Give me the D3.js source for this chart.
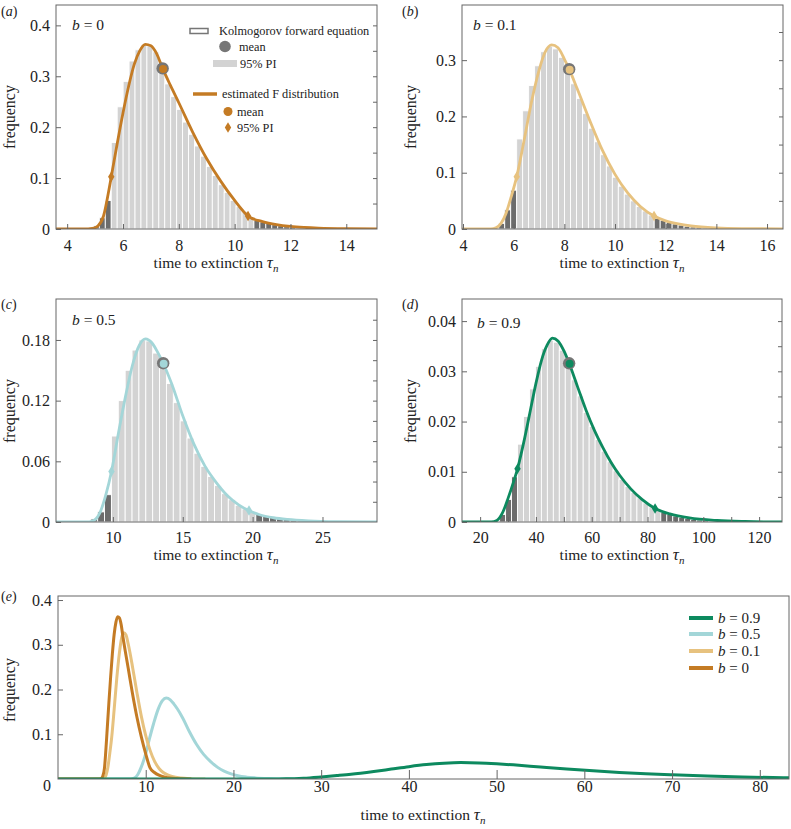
<!DOCTYPE html>
<html><head><meta charset="utf-8">
<script src="https://cdn.jsdelivr.net/npm/d3@7"></script>
<style>body{margin:0;background:#fff}svg{display:block}</style>
</head><body>
<script>
// ---------------- DATA ----------------
// estimated F distribution curves (time, density)
const tauA = [0, 4.6, 4.9, 5.1, 5.3, 5.5, 5.58, 5.8, 6.0, 6.2, 6.4, 6.6, 6.8, 7.0, 7.2, 7.42, 7.7, 8.0, 8.5, 9.0, 9.5, 10.0, 10.48, 11.0, 11.5, 12.0, 12.5, 13.0, 14.0, 15.2];
const fA   = [0, 0, 0.001, 0.006, 0.025, 0.078, 0.1027, 0.17, 0.228, 0.28, 0.323, 0.35, 0.3627, 0.36, 0.345, 0.3155, 0.282, 0.248, 0.19, 0.138, 0.094, 0.056, 0.0255, 0.0145, 0.0085, 0.005, 0.003, 0.0017, 0.0005, 0.0001];
const tauB = [0, 5.1, 5.3, 5.5, 5.7, 5.9, 6.12, 6.4, 6.7, 7.0, 7.25, 7.5, 7.75, 8.0, 8.19, 8.5, 9.0, 9.5, 10.0, 10.5, 11.0, 11.54, 12.0, 12.5, 13.0, 14.0, 15.0, 16.8];
const fB   = [0, 0, 0.002, 0.01, 0.028, 0.057, 0.093, 0.155, 0.225, 0.282, 0.315, 0.327, 0.322, 0.302, 0.284, 0.25, 0.193, 0.14, 0.097, 0.064, 0.04, 0.023, 0.0145, 0.009, 0.0055, 0.002, 0.0007, 0.0001];
const tauC = [0, 8.3, 8.7, 9.1, 9.5, 9.9, 10.4, 10.9, 11.4, 11.9, 12.33, 12.8, 13.2, 13.6, 14.2, 15.0, 15.8, 16.6, 17.4, 18.2, 19.0, 19.74, 20.5, 21.5, 22.5, 24, 26, 29];
const fC   = [0, 0, 0.002, 0.01, 0.027, 0.05, 0.088, 0.124, 0.155, 0.175, 0.181, 0.177, 0.168, 0.157, 0.137, 0.105, 0.077, 0.055, 0.039, 0.026, 0.017, 0.0113, 0.0072, 0.0042, 0.0025, 0.0011, 0.0003, 0];
const tauD = [0, 24, 26, 28, 30, 31.8, 33.4, 36, 38, 40, 42, 44, 45.9, 48, 50, 51.9, 55, 58, 61, 64, 67, 70, 74, 78, 82.7, 88, 95, 105, 115, 129];
const fD   = [0, 0, 0.0003, 0.0018, 0.0047, 0.0077, 0.0106, 0.0168, 0.0222, 0.0276, 0.0322, 0.0352, 0.0366, 0.036, 0.0341, 0.0316, 0.0268, 0.0222, 0.0182, 0.0148, 0.0118, 0.0093, 0.0066, 0.0045, 0.0027, 0.0016, 0.0008, 0.0003, 0.0001, 0];

// Kolmogorov forward equation histograms: first bin start, bin width, heights
const binStartA = 4.94, binWidthA = 0.213;
const barsA = [0.006, 0.022, 0.056, 0.17, 0.24, 0.29, 0.33, 0.352, 0.362, 0.36, 0.348, 0.326, 0.285, 0.26, 0.235, 0.21, 0.186, 0.163, 0.143, 0.123, 0.105, 0.087, 0.072, 0.056, 0.044, 0.034, 0.021, 0.017, 0.014, 0.011, 0.0085, 0.0065, 0.0045, 0.003, 0.002];
const binStartB = 5.41, binWidthB = 0.236;
const barsB = [0.01, 0.034, 0.069, 0.16, 0.21, 0.255, 0.29, 0.315, 0.325, 0.32, 0.305, 0.284, 0.258, 0.232, 0.205, 0.179, 0.155, 0.132, 0.112, 0.092, 0.076, 0.062, 0.05, 0.04, 0.032, 0.025, 0.019, 0.015, 0.012, 0.009, 0.007, 0.005, 0.0037, 0.0027, 0.002, 0.0013];
const binStartC = 8.42, binWidthC = 0.492;
const barsC = [0.003, 0.01, 0.027, 0.085, 0.12, 0.15, 0.17, 0.18, 0.179, 0.167, 0.153, 0.137, 0.118, 0.1, 0.083, 0.068, 0.055, 0.045, 0.036, 0.028, 0.022, 0.0165, 0.013, 0.0095, 0.0075, 0.006, 0.0045, 0.0035, 0.0026, 0.0019, 0.0012];
const binStartD = 26.98, binWidthD = 2.14;
const barsD = [0.0015, 0.0045, 0.009, 0.0155, 0.021, 0.0265, 0.031, 0.0345, 0.0362, 0.0358, 0.0342, 0.0316, 0.0283, 0.0251, 0.0218, 0.019, 0.0164, 0.0141, 0.012, 0.0102, 0.0085, 0.0071, 0.0059, 0.0048, 0.0038, 0.003, 0.0024, 0.0019, 0.0015, 0.0012, 0.0009, 0.0007, 0.0005, 0.0004, 0.0003];

// means [time, density] and 95% PI bounds [time], with density at the markers
const meanA = [7.42, 0.3155], piA = [5.58, 10.48], piFA = [0.1027, 0.0255];
const meanB = [8.19, 0.284],  piB = [6.12, 11.54], piFB = [0.093, 0.023];
const meanC = [13.6, 0.157],  piC = [9.9, 19.74],  piFC = [0.05, 0.0113];
const meanD = [51.9, 0.0316], piD = [33.4, 82.7],  piFD = [0.0106, 0.0027];

const bLabels = ["b = 0", "b = 0.1", "b = 0.5", "b = 0.9"];
const panelLetters = ["a", "b", "c", "d", "e"];

// axis ticks
const xTicksA = [4, 6, 8, 10, 12, 14];
const yTicksA = [0, 0.1, 0.2, 0.3, 0.4];
const xTicksB = [4, 6, 8, 10, 12, 14, 16];
const yTicksB = [0, 0.1, 0.2, 0.3];
const xTicksC = [10, 15, 20, 25];
const yTicksC = [0, 0.06, 0.12, 0.18];
const xTicksD = [20, 30, 40, 50, 60, 70, 80, 90, 100, 110, 120];
const yTicksD = [0, 0.01, 0.02, 0.03, 0.04];
const xTicksE = [10, 20, 30, 40, 50, 60, 70, 80];
const yTicksE = [0.1, 0.2, 0.3, 0.4];

// ---------------- DRAWING ----------------
const W = 791, H = 829;
const FONT = "'Liberation Serif','Times New Roman',Times,serif";
const COL = {b0: "#c47b24", b01: "#e7c27f", b05: "#a3d6d8", b09: "#0d8a5f"};
const LIGHT = "#d3d3d3", DARK = "#6c6c6c", GREY = "#767676", FRAME = "#666";

const svg = d3.select("body").append("svg").attr("width", W).attr("height", H)
  .style("font-family", FONT);

function xLabel(cx, by) {
  const t = svg.append("text").attr("x", cx).attr("y", by).attr("text-anchor", "middle")
    .attr("font-size", 15.5).attr("fill", "#222");
  t.append("tspan").text("time to extinction ");
  t.append("tspan").attr("font-style", "italic").attr("font-size", 17).text("τ");
  t.append("tspan").attr("font-style", "italic").attr("font-size", 11).attr("dy", 4).text("n");
}
function yLabel(cx, cy) {
  svg.append("text").attr("transform", `translate(${cx},${cy}) rotate(-90)`)
    .attr("text-anchor", "middle").attr("dominant-baseline", "central")
    .attr("font-size", 16).attr("fill", "#222").text("frequency");
}
function letter(x, y, l) {
  const t = svg.append("text").attr("x", x).attr("y", y).attr("font-size", 14).attr("fill", "#222");
  t.append("tspan").text("(");
  t.append("tspan").attr("font-style", "italic").text(l);
  t.append("tspan").text(")");
}
function bText(g, x, y, s, fs) {
  const t = g.append("text").attr("x", x).attr("y", y).attr("font-size", fs).attr("fill", "#222");
  t.append("tspan").attr("font-style", "italic").text(s.slice(0, 1));
  t.append("tspan").text(s.slice(1));
}
const diamond = "M0,-5.2L3.2,0L0,5.2L-3.2,0Z";

let clipId = 0;
function panel(c) {
  const g = svg.append("g");
  const x = d3.scaleLinear().domain(c.xd).range([c.x0, c.x1]);
  const y = d3.scaleLinear().domain(c.yd).range([c.y1, c.y0]);
  const id = "clip" + (clipId++);
  svg.append("clipPath").attr("id", id).append("rect")
    .attr("x", c.x0).attr("y", c.y0).attr("width", c.x1 - c.x0).attr("height", c.y1 - c.y0);
  const inner = g.append("g").attr("clip-path", `url(#${id})`);

  if (c.bars) {
    const bins = c.bars.map((h, i) => ({s: c.binStart + i * c.binWidth, e: c.binStart + (i + 1) * c.binWidth, h}));
    inner.selectAll("rect.bar").data(bins).join("rect").attr("class", "bar")
      .attr("x", d => x(d.s)).attr("width", d => x(d.e) - x(d.s))
      .attr("y", d => y(d.h)).attr("height", d => y(0) - y(d.h))
      .attr("fill", d => (d.e <= c.pi[0] + 1e-6 || d.s >= c.pi[1] - 1e-6) ? DARK : LIGHT)
      .attr("stroke", "#fff").attr("stroke-width", 0.9);
  }
  const line = d3.line().x(d => x(d[0])).y(d => y(d[1])).curve(d3.curveMonotoneX);
  (c.curves).forEach(cv => {
    inner.append("path").datum(d3.zip(cv.t, cv.f)).attr("d", line)
      .attr("fill", "none").attr("stroke", cv.color).attr("stroke-width", cv.w || 2.8)
      .attr("stroke-linejoin", "round");
  });
  if (c.mean) {
    const cv = c.curves[0];
    g.append("circle").attr("cx", x(c.mean[0])).attr("cy", y(c.mean[1])).attr("r", 6.2).attr("fill", GREY);
    g.append("circle").attr("cx", x(c.mean[0]) + 0.5).attr("cy", y(c.mean[1]) + 0.5).attr("r", 4).attr("fill", cv.color);
    c.pi.forEach((p, i) => {
      g.append("path").attr("d", diamond).attr("fill", cv.color)
        .attr("transform", `translate(${x(p)},${y(c.piF[i])})`);
    });
  }
  // frame
  g.append("rect").attr("x", c.x0).attr("y", c.y0).attr("width", c.x1 - c.x0).attr("height", c.y1 - c.y0)
    .attr("fill", "none").attr("stroke", FRAME).attr("stroke-width", 1);
  // axes
  const ax = d3.axisBottom(x).tickValues(c.xt).tickSize(-(c.xtl || 5)).tickPadding(c.xpad || 11)
    .tickFormat(c.xfmt || (d => d));
  const gx = g.append("g").attr("transform", `translate(0,${c.y1})`).call(ax);
  const ay = d3.axisLeft(y).tickValues(c.yt).tickSize(-5).tickPadding(6).tickFormat(d => d === 0 ? "0" : d3.format("")(+d.toFixed(3)));
  const gy = g.append("g").attr("transform", `translate(${c.x0},0)`).call(ay);
  [gx, gy].forEach(a => {
    a.select(".domain").remove();
    a.selectAll("line").attr("stroke", FRAME);
    a.selectAll("text").attr("font-size", 16).attr("fill", "#222").attr("font-family", FONT);
  });
  if (c.rt) {
    const ar = d3.axisLeft(y).tickValues(c.rt).tickSize(4).tickFormat("");
    const gr = g.append("g").attr("transform", `translate(${c.x1},0)`).call(ar);
    gr.select(".domain").remove();
    gr.selectAll("line").attr("stroke", FRAME);
  }
  return {g, x, y};
}

// panel a
const pa = panel({x0: 56, x1: 377, y0: 5, y1: 229, xd: [3.6, 15.1], yd: [0, 0.44],
  bars: barsA, binStart: binStartA, binWidth: binWidthA, pi: piA, piF: piFA, mean: meanA,
  curves: [{t: tauA, f: fA, color: COL.b0}], xt: xTicksA, yt: yTicksA, rt: d3.range(0.05, 0.44, 0.05)});
const pb = panel({x0: 462, x1: 783, y0: 5, y1: 229, xd: [3.96, 16.63], yd: [0, 0.398],
  bars: barsB, binStart: binStartB, binWidth: binWidthB, pi: piB, piF: piFB, mean: meanB,
  curves: [{t: tauB, f: fB, color: COL.b01}], xt: xTicksB, yt: yTicksB, rt: d3.range(0.05, 0.398, 0.05)});
const pc = panel({x0: 56, x1: 377, y0: 299, y1: 522, xd: [5.93, 28.9], yd: [0, 0.2205],
  bars: barsC, binStart: binStartC, binWidth: binWidthC, pi: piC, piF: piFC, mean: meanC, xpad: 10,
  curves: [{t: tauC, f: fC, color: COL.b05}], xt: xTicksC, yt: yTicksC, rt: d3.range(0.02, 0.22, 0.02)});
const pd = panel({x0: 462, x1: 782, y0: 299, y1: 522, xd: [13.5, 128.2], yd: [0, 0.0444],
  bars: barsD, binStart: binStartD, binWidth: binWidthD, pi: piD, piF: piFD, mean: meanD, xpad: 10,
  xfmt: d => (d % 20 === 0 ? d : ""),
  curves: [{t: tauD, f: fD, color: COL.b09}], xt: xTicksD, yt: yTicksD, rt: d3.range(0.005, 0.044, 0.005)});
const pe = panel({x0: 58, x1: 789, y0: 596, y1: 779, xd: [0, 83.33], yd: [0, 0.409], xtl: 9, xpad: 2,
  curves: [{t: tauC, f: fC, color: COL.b05, w: 3}, {t: tauB, f: fB, color: COL.b01, w: 3},
           {t: tauA, f: fA, color: COL.b0, w: 3}, {t: tauD, f: fD, color: COL.b09, w: 3}],
  xt: xTicksE, yt: yTicksE});
pe.g.append("text").attr("x", 47).attr("y", 791).attr("text-anchor", "middle")
  .attr("font-size", 16).attr("fill", "#222").text("0");

// b labels
bText(pa.g, 72, 30, bLabels[0], 15.5);
bText(pb.g, 473, 30, bLabels[1], 15.5);
bText(pc.g, 72, 325, bLabels[2], 15.5);
bText(pd.g, 477, 328, bLabels[3], 15.5);

// panel letters
letter(1, 16, panelLetters[0]);
letter(402, 16, panelLetters[1]);
letter(1, 309, panelLetters[2]);
letter(402, 309, panelLetters[3]);
letter(1, 601, panelLetters[4]);

// axis titles
xLabel(216, 268); xLabel(622, 268);
xLabel(216, 560); xLabel(622, 560);
xLabel(423, 820);
yLabel(9, 117); yLabel(410, 117);
yLabel(9, 411); yLabel(410, 411);
yLabel(9, 690);

// legend panel a
const lg = pa.g;
lg.append("rect").attr("x", 190).attr("y", 28.5).attr("width", 18).attr("height", 5)
  .attr("fill", "#fff").attr("stroke", GREY).attr("stroke-width", 1.5);
lg.append("text").attr("x", 219).attr("y", 35).attr("font-size", 12.3).attr("fill", "#222").text("Kolmogorov forward equation");
lg.append("circle").attr("cx", 225).attr("cy", 46.5).attr("r", 5.8).attr("fill", GREY);
lg.append("text").attr("x", 239).attr("y", 50.5).attr("font-size", 12.3).attr("fill", "#222").text("mean");
lg.append("rect").attr("x", 213).attr("y", 60).attr("width", 24).attr("height", 7).attr("fill", LIGHT);
lg.append("text").attr("x", 240).attr("y", 67.5).attr("font-size", 12.3).attr("fill", "#222").text("95% PI");
lg.append("line").attr("x1", 193).attr("x2", 217).attr("y1", 94).attr("y2", 94)
  .attr("stroke", COL.b0).attr("stroke-width", 3.5);
lg.append("text").attr("x", 222).attr("y", 98).attr("font-size", 12.3).attr("fill", "#222").text("estimated F distribution");
lg.append("circle").attr("cx", 228).attr("cy", 111.5).attr("r", 4.5).attr("fill", COL.b0);
lg.append("text").attr("x", 237).attr("y", 115.5).attr("font-size", 12.3).attr("fill", "#222").text("mean");
lg.append("path").attr("d", diamond).attr("fill", COL.b0).attr("transform", "translate(228,127.5)");
lg.append("text").attr("x", 237).attr("y", 131.5).attr("font-size", 12.3).attr("fill", "#222").text("95% PI");

// legend panel e
const eLeg = [[bLabels[3], COL.b09], [bLabels[2], COL.b05], [bLabels[1], COL.b01], [bLabels[0], COL.b0]];
const eY = [618, 634, 651, 668];
eLeg.forEach((d, i) => {
  pe.g.append("line").attr("x1", 689).attr("x2", 713).attr("y1", eY[i]).attr("y2", eY[i])
    .attr("stroke", d[1]).attr("stroke-width", 4);
  bText(pe.g, 718, eY[i] + 5, d[0], 15);
});
</script>
</body></html>
